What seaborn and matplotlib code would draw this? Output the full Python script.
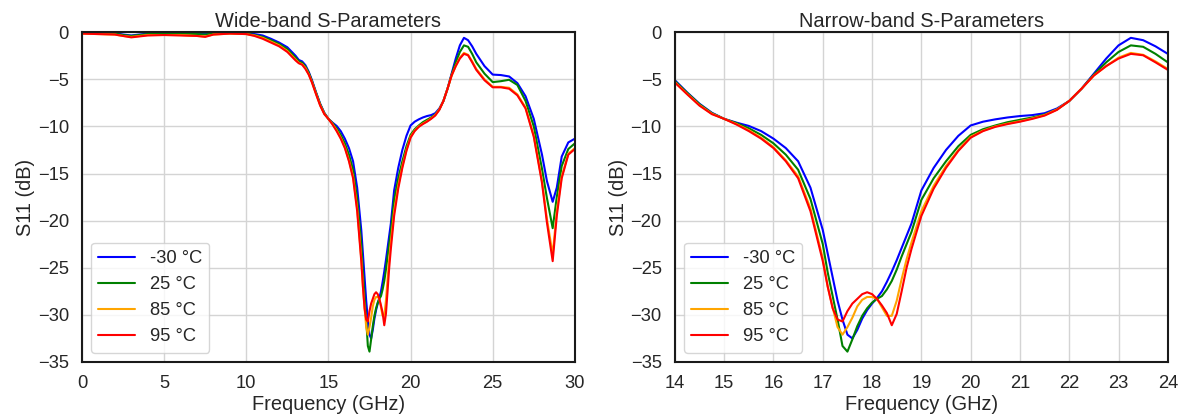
import numpy as np
import pandas as pd
import seaborn as sns
import matplotlib
matplotlib.use("Agg")
import matplotlib.pyplot as plt

# frequency points (GHz)
freq = [0, 1, 2, 2.5, 3, 3.5, 4, 5, 6, 7, 7.5, 8, 8.5, 9, 10, 10.5, 11, 11.5,
        12, 12.5, 13, 13.2, 13.4, 13.6, 13.8,
        14, 14.25, 14.5, 14.75, 15, 15.25, 15.5, 15.75, 16, 16.25, 16.5, 16.75,
        17, 17.1, 17.2, 17.3, 17.4, 17.5, 17.6, 17.7, 17.8, 17.9, 18, 18.1,
        18.2, 18.3, 18.4, 18.5, 18.6, 18.7, 18.8, 19, 19.25, 19.5, 19.75, 20,
        20.25, 20.5, 20.75, 21, 21.25, 21.5, 21.75, 22, 22.25, 22.5, 22.75, 23,
        23.25, 23.5, 23.75, 24,
        24.5, 25, 25.5, 26, 26.5, 27, 27.5, 28, 28.3, 28.65, 28.9, 29.2, 29.6, 30]

s11_m30 = [-0.05, -0.05, -0.1, -0.25, -0.35, -0.25, -0.15, -0.1, -0.1, -0.1, -0.15, -0.1, -0.05, -0.05, -0.1, -0.2, -0.35, -0.7,
           -1.1, -1.6, -2.5, -2.95, -3.1, -3.5, -4.2,
           -5.1, -6.4, -7.6, -8.55, -9.2, -9.6, -9.95, -10.5, -11.3, -12.3, -13.7, -16.5,
           -21.0, -23.5, -26.0, -28.5, -30.5, -32.1, -32.5, -31.6, -30.4, -29.5, -28.8, -28.2,
           -27.5, -26.5, -25.4, -24.2, -22.9, -21.6, -20.3, -16.8, -14.4, -12.5, -11.0, -9.9,
           -9.5, -9.25, -9.05, -8.9, -8.8, -8.6, -8.1, -7.3, -6.0, -4.4, -2.8, -1.4,
           -0.6, -0.85, -1.5, -2.3,
           -3.6, -4.5, -4.55, -4.7, -5.4, -6.8, -9.2, -13.0, -15.8, -18.0, -16.5, -13.2, -11.7, -11.3]

s11_25 = [-0.1, -0.1, -0.15, -0.3, -0.4, -0.3, -0.2, -0.15, -0.15, -0.2, -0.25, -0.15, -0.1, -0.1, -0.15, -0.3, -0.5, -0.85,
          -1.25, -1.8, -2.7, -3.1, -3.25, -3.65, -4.3,
          -5.2, -6.45, -7.65, -8.6, -9.2, -9.65, -10.2, -10.9, -11.8, -13.0, -14.6, -17.7,
          -22.5, -25.5, -28.0, -30.5, -33.3, -33.9, -32.6, -31.2, -30.1, -29.3, -28.7, -28.3,
          -28.0, -27.3, -26.4, -25.2, -23.8, -22.5, -21.2, -17.8, -15.5, -13.7, -12.1, -10.9,
          -10.3, -9.9, -9.55, -9.3, -9.05, -8.75, -8.2, -7.3, -6.0, -4.5, -3.2, -2.1,
          -1.4, -1.55, -2.3, -3.2,
          -4.4, -5.3, -5.2, -5.05, -5.6, -7.3, -10.0, -14.5, -17.6, -20.8, -17.5, -14.2, -12.4, -11.8]

s11_85 = [-0.15, -0.2, -0.25, -0.4, -0.5, -0.4, -0.3, -0.3, -0.3, -0.4, -0.45, -0.25, -0.2, -0.15, -0.2, -0.35, -0.6, -1.0,
          -1.4, -2.0, -2.9, -3.25, -3.4, -3.8, -4.45,
          -5.3, -6.55, -7.75, -8.65, -9.2, -9.75, -10.4, -11.2, -12.2, -13.6, -15.3, -18.7,
          -24.0, -27.0, -29.2, -31.3, -32.1, -31.3, -30.3, -29.1, -28.4, -28.1, -28.1, -28.3,
          -29.2, -30.1, -30.1, -28.5, -26.2, -24.1, -22.3, -19.0, -16.3, -14.2, -12.5, -11.1,
          -10.45, -10.0, -9.7, -9.45, -9.15, -8.8, -8.2, -7.3, -6.0, -4.6, -3.6, -2.7,
          -2.2, -2.4, -3.1, -3.9,
          -5.0, -5.8, -5.8, -5.9, -6.6, -8.0, -11.0, -15.8, -19.8, -23.6, -19.0, -15.3, -12.9, -12.3]

s11_95 = [-0.15, -0.2, -0.25, -0.4, -0.55, -0.45, -0.35, -0.3, -0.35, -0.4, -0.5, -0.25, -0.2, -0.15, -0.2, -0.4, -0.7, -1.1,
          -1.5, -2.1, -3.0, -3.3, -3.45, -3.9, -4.5,
          -5.35, -6.6, -7.8, -8.7, -9.2, -9.8, -10.5, -11.3, -12.3, -13.7, -15.5, -19.0,
          -24.3, -27.0, -29.3, -30.5, -30.7, -29.6, -28.8, -28.3, -27.8, -27.6, -27.8, -28.3,
          -29.0, -29.8, -31.1, -29.9, -27.5, -25.0, -23.0, -19.5, -16.6, -14.4, -12.6, -11.2,
          -10.5, -10.05, -9.75, -9.5, -9.2, -8.85, -8.25, -7.3, -6.0, -4.6, -3.6, -2.8,
          -2.3, -2.45, -3.2, -4.0,
          -5.1, -5.85, -5.85, -6.0, -6.7, -8.1, -11.1, -16.0, -20.2, -24.3, -19.5, -15.5, -13.0, -12.4]

temps = ["-30 °C", "25 °C", "85 °C", "95 °C"]
colors = ["blue", "green", "orange", "red"]

df = pd.concat([
    pd.DataFrame({"Frequency": freq, "S11": vals, "Temp": t})
    for t, vals in zip(temps, [s11_m30, s11_25, s11_85, s11_95])
])

sns.set_theme(style="whitegrid", font_scale=1.2,
              rc={"axes.edgecolor": "0.1", "axes.linewidth": 1.5,
                  "grid.color": "0.83"})
plt.rcParams["font.family"] = ["Liberation Sans", "DejaVu Sans"]

fig, axes = plt.subplots(1, 2, figsize=(11.88, 4.18), dpi=100)
fig.subplots_adjust(left=0.069, right=0.983, top=0.923, bottom=0.134, wspace=0.203)

palette = dict(zip(temps, colors))
for ax, title, xlim, xticks in [
    (axes[0], "Wide-band S-Parameters", (0, 30), np.arange(0, 31, 5)),
    (axes[1], "Narrow-band S-Parameters", (14, 24), np.arange(14, 25, 1)),
]:
    sns.lineplot(data=df, x="Frequency", y="S11", hue="Temp", palette=palette,
                 linewidth=1.5, ax=ax)
    ax.set_xlim(*xlim)
    ax.set_ylim(-35, 0)
    ax.set_xticks(xticks)
    ax.set_yticks(np.arange(-35, 1, 5))
    ax.set_title(title, pad=4)
    ax.set_xlabel("Frequency (GHz)", labelpad=2)
    ax.set_ylabel("S11 (dB)", labelpad=2)
    ax.legend(loc="lower left")

fig.savefig("out.png", dpi=100)
